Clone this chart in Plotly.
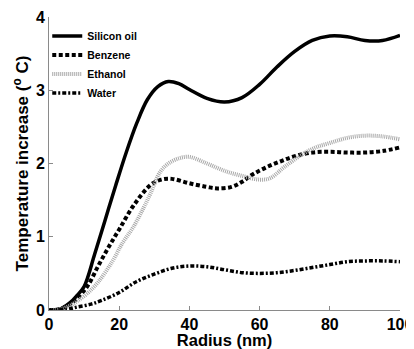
import plotly.graph_objects as go

# Radius (nm) / temperature increase (°C)
silicon_x = [0, 3, 6, 8, 10, 13, 16, 19, 22, 25, 28, 31, 34, 37, 40, 45, 50, 55, 60, 65, 70, 75, 80, 85, 90, 95, 100]
silicon_y = [0, 0.01, 0.1, 0.2, 0.32, 0.76, 1.23, 1.7, 2.15, 2.55, 2.87, 3.05, 3.12, 3.09, 3.01, 2.89, 2.84, 2.9, 3.08, 3.32, 3.53, 3.68, 3.74, 3.73, 3.68, 3.68, 3.75]

benzene_x = [0, 3, 6, 8, 11, 14, 17, 20, 24, 29, 32, 35, 40, 45, 48, 52, 55, 58, 62, 66, 70, 75, 80, 85, 90, 95, 100]
benzene_y = [0, 0.01, 0.08, 0.16, 0.33, 0.6, 0.86, 1.1, 1.42, 1.71, 1.78, 1.79, 1.73, 1.68, 1.66, 1.68, 1.75, 1.85, 1.95, 2.03, 2.1, 2.15, 2.16, 2.15, 2.15, 2.17, 2.22]

ethanol_x = [0, 3, 6, 8, 11, 14, 18, 21, 24, 27, 29, 31.6, 34, 37, 40, 45, 50, 55, 60, 63, 67, 72, 76, 80, 85, 90, 95, 100]
ethanol_y = [0, 0.01, 0.06, 0.12, 0.23, 0.38, 0.66, 0.92, 1.13, 1.4, 1.6, 1.88, 2.0, 2.07, 2.09, 2.0, 1.9, 1.83, 1.78, 1.8, 1.95, 2.12, 2.22, 2.28, 2.35, 2.38, 2.37, 2.33]

water_x = [0, 5, 8, 12, 15, 20, 25, 30, 35, 40, 45, 50, 55, 60, 65, 70, 75, 80, 85, 90, 95, 100]
water_y = [0, 0.01, 0.04, 0.08, 0.13, 0.24, 0.39, 0.49, 0.57, 0.6, 0.59, 0.55, 0.51, 0.5, 0.51, 0.54, 0.58, 0.62, 0.66, 0.67, 0.67, 0.66]

series_names = ["Silicon oil", "Benzene", "Ethanol", "Water"]

fig = go.Figure()
fig.add_trace(go.Scatter(x=silicon_x, y=silicon_y, name=series_names[0], mode="lines",
                         line=dict(color="black", width=3.5, shape="spline")))
fig.add_trace(go.Scatter(x=benzene_x, y=benzene_y, name=series_names[1], mode="lines",
                         line=dict(color="black", width=4, dash="4px,2.5px", shape="spline")))
fig.add_trace(go.Scatter(x=ethanol_x, y=ethanol_y, name=series_names[2], mode="lines",
                         line=dict(color="#a8a8a8", width=4, dash="1px,1px", shape="spline")))
fig.add_trace(go.Scatter(x=water_x, y=water_y, name=series_names[3], mode="lines",
                         line=dict(color="black", width=3.5, dash="4px,2px,2px,2px", shape="spline")))

axis_common = dict(showline=True, linecolor="#8a8a8a", linewidth=1, ticks="inside", ticklen=4,
                   tickcolor="#8a8a8a", showgrid=False, zeroline=False, automargin=False,
                   ticklabeloverflow="allow",
                   tickfont=dict(family="Liberation Sans", size=16, color="black", weight="bold"))

title_font = dict(family="Liberation Sans", size=16.5, color="black", weight="bold")

# the page body adds an 8px offset, so the figure is sized to the remaining window
fig.update_layout(
    width=406, height=341,
    margin=dict(l=41, r=14, t=9, b=39),
    plot_bgcolor="white", paper_bgcolor="white",
    xaxis=dict(range=[0, 100], tickvals=[0, 20, 40, 60, 80, 100], **axis_common,
               title=dict(text="Radius (nm)", standoff=3, font=title_font)),
    yaxis=dict(range=[0, 4], tickvals=[0, 1, 2, 3, 4], **axis_common,
               title=dict(text="Temperature increase (<sup>o</sup> C)", standoff=2,
                          font=dict(family="Liberation Sans", size=17, color="black", weight="bold"))),
    showlegend=True,
    legend=dict(x=-0.005, y=0.985, xanchor="left", yanchor="top", bgcolor="rgba(0,0,0,0)",
                font=dict(family="Liberation Sans", size=10.5, color="black", weight="bold"),
                itemwidth=30, tracegroupgap=0),
)

fig.write_html("out.html")
